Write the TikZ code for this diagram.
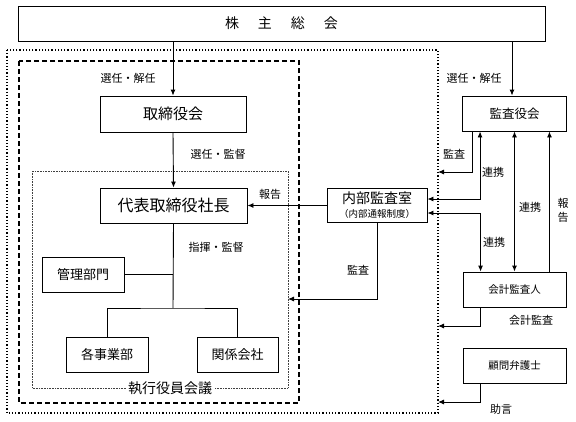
\documentclass[tikz,border=0pt]{standalone}
\usepackage{fontspec}
\setmainfont{Noto Sans CJK JP}
\usetikzlibrary{arrows.meta}
\begin{document}
\begin{tikzpicture}[x=1pt,y=-1pt,
		box/.style={draw,line width=0.9pt,inner sep=0pt,align=center},
		lbl/.style={inner sep=1pt,font=\fontsize{11}{14}\selectfont},
		arr/.style={-{Latex[length=6pt,width=5pt]},line width=0.9pt},
		arrs/.style={{Latex[length=6pt,width=5pt]}-{Latex[length=6pt,width=5pt]},line width=0.9pt},
		ln/.style={line width=0.9pt}]
		\useasboundingbox (0,0) rectangle (576,421);
		%\draw[red] (0,0) rectangle (576,421);
		\draw [line width=1.2pt,dotted] (7,50) rectangle (438,413);
		\draw [line width=1.2pt,dash pattern=on 5pt off 3pt] (19,61) rectangle (299,403);
		\draw [line width=0.6pt,black!75,dash pattern=on 0.6pt off 1pt] (32,171) rectangle (288,388);
		\node [fill=white,inner sep=2pt,font=\fontsize{14}{16}\selectfont] (kaigi) at (170,388) {執行役員会議};
		\node [box,minimum width=527,minimum height=35,font=\fontsize{14}{16}\selectfont] (soukai) at (281.5,23.5) {株\hspace{19pt}主\hspace{19pt}総\hspace{19pt}会};
		\node [box,minimum width=146,minimum height=36,font=\fontsize{15}{18}\selectfont] (tori) at (173,114) {取締役会};
		\node [box,minimum width=147,minimum height=35,font=\fontsize{16}{18}\selectfont] (shacho) at (173.5,205.5) {代表取締役社長};
		\node [box,minimum width=82,minimum height=35,font=\fontsize{13}{15}\selectfont] (kanri) at (83,274.5) {管理部門};
		\node [box,minimum width=82,minimum height=35,font=\fontsize{13}{15}\selectfont] (jigyo) at (107,354.5) {各事業部};
		\node [box,minimum width=81,minimum height=35,font=\fontsize{13}{15}\selectfont] (kankei) at (237.5,354.5) {関係会社};
		\node [box,minimum width=100,minimum height=34,font=\fontsize{14}{15}\selectfont] (naibu) at (377,205.5) {内部監査室\\[-1pt]{\fontsize{9.5}{11}\selectfont （内部通報制度）}};
		\node [box,minimum width=104,minimum height=35,font=\fontsize{12.5}{15}\selectfont] (kansa) at (514.5,113.5) {監査役会};
		\node [box,minimum width=103,minimum height=35,font=\fontsize{10.5}{13}\selectfont] (kaikei) at (514.5,289.5) {会計監査人};
		\node [box,minimum width=103,minimum height=35,font=\fontsize{10.5}{13}\selectfont] (komon) at (514.5,365.5) {顧問弁護士};
		\coordinate (fork) at (173,308);
		\coordinate (inR) at (288,299);
		\coordinate (outA) at (438,172);
		\coordinate (outB) at (438,326);
		\coordinate (outC) at (438,402);
		\draw [arr] (tori.north |- soukai.south) to (tori.north);
		\draw [arr] ([xshift=-2.5pt]kansa.north |- soukai.south) to ([xshift=-2.5pt]kansa.north);
		\draw [arr] (tori.south) to (shacho.north);
		\draw [ln] (shacho.south) to (fork);
		\draw [ln] (jigyo.north) |- (fork) -| (kankei.north);
		\draw [ln] (kanri.east) to (kanri.east -| fork);
		\draw [arr] (naibu.west) to (shacho.east);
		\draw [arr] (naibu.south) |- (inR);
		\draw [arr] ([xshift=10pt]kansa.south west) |- (outA);
		\draw [arrs] ([xshift=18pt]kansa.south west) |- ([yshift=6.5pt]naibu.east);
		\draw [arrs] ([yshift=-7.5pt]naibu.east) -| ([xshift=18pt]kaikei.north west);
		\draw [arrs] (kansa.south) to (kaikei.north);
		\draw [arr] ([xshift=-17pt]kaikei.north east) to ([xshift=-17pt]kaikei.north east |- kansa.south);
		\draw [arr] ([xshift=18pt]kaikei.south west) |- (outB);
		\draw [arr] ([xshift=18pt]komon.south west) |- (outC);
		\node [lbl] (l1) at (128,78) {選任・解任};
		\node [lbl] (l2) at (474,78) {選任・解任};
		\node [lbl] (l3) at (218,154) {選任・監督};
		\node [lbl] (l4) at (270,194) {報告};
		\node [lbl] (l5) at (216,247) {指揮・監督};
		\node [lbl] (l6) at (358,270) {監査};
		\node [lbl] (l7) at (454,154) {監査};
		\node [lbl] (l8) at (493,172) {連携};
		\node [lbl] (l9) at (530,207) {連携};
		\node [lbl,align=center] (l10) at (563,210) {報\\告};
		\node [lbl] (l11) at (494,242) {連携};
		\node [lbl] (l12) at (531,320) {会計監査};
		\node [lbl] (l13) at (501,409) {助言};
	\end{tikzpicture}
\end{document}
